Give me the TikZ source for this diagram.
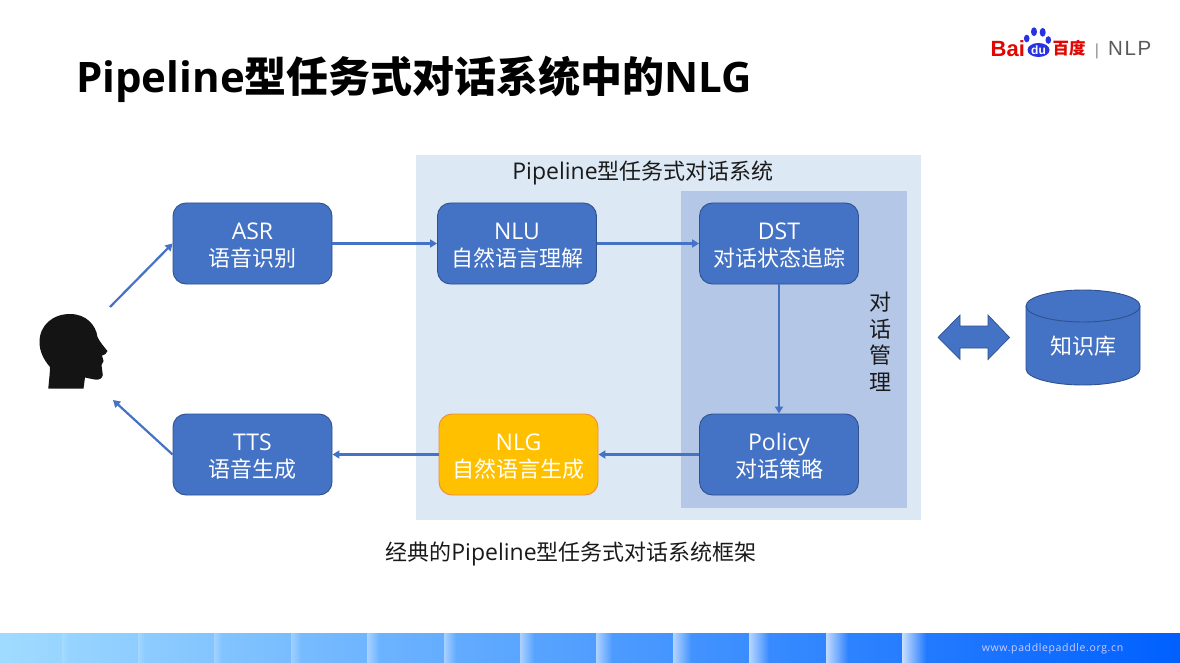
\documentclass[tikz,border=0pt]{standalone}
\usepackage{fontspec}
\setmainfont{Open Sans}
\newfontfamily\cjk{Noto Sans CJK SC}
\newfontfamily\lat{Open Sans}
\newfontfamily\arial{Liberation Sans}
\usetikzlibrary{arrows.meta,fadings}
\definecolor{boxblue}{HTML}{4472C4}
\definecolor{boxedge}{HTML}{2F528F}
\definecolor{panelA}{HTML}{DDE8F5}
\definecolor{panelB}{HTML}{B4C7E7}
\definecolor{nlgfill}{HTML}{FFC000}
\definecolor{nlgedge}{HTML}{F08A3D}
\definecolor{inktext}{HTML}{1A1A1A}
\definecolor{baidured}{HTML}{E10601}
\definecolor{baidublue}{HTML}{2932E1}
\definecolor{nlpgrey}{HTML}{5A5A5A}
\definecolor{footL}{HTML}{A0DBFF}
\definecolor{footR}{HTML}{0060FF}
\newcommand{\fs}[1]{\fontsize{#1}{#1}\selectfont}
\tikzset{
  x=1pt,y=-1pt,
  procbox/.style={draw=boxedge,fill=boxblue,line width=0.9pt,rounded corners=13pt,minimum width=159pt,minimum height=81pt,inner sep=0pt,text=white,align=center},
  goldbox/.style={procbox,draw=nlgedge,fill=nlgfill},
  flow/.style={draw=boxblue,line width=2.2pt,-{Triangle[length=7pt,width=8pt]}},
  plain/.style={inner sep=0pt,text=inktext},
}
\newcommand{\boxtext}[2]{\rule[-6pt]{0pt}{28pt}{\fs{23}\lat #1}\\\rule[-3pt]{0pt}{23pt}{\fs{22}\cjk #2}}
\begin{document}
\begin{tikzpicture}
\useasboundingbox (0,0) rectangle (1180,663);
\fill[white] (0,0) rectangle (1180,663);
% panels
\fill[panelA] (416,155) rectangle (921,520);
\fill[panelB] (681,191) rectangle (907,508);
% title
\node[plain,anchor=base west,text=black] (title) at (76,93) {\fs{42}\lat\bfseries Pipeline{\cjk\fs{42}\bfseries 型任务式对话系统中的}NLG};
\node[plain,anchor=base] (sys) at (643,180) {\fs{23}\lat Pipeline{\cjk\fs{22}型任务式对话系统}};
\node[plain,anchor=base] (cap) at (571,560) {\cjk\fs{22}经典的{\lat\fs{23}Pipeline}型任务式对话系统框架};
% boxes
\node[procbox] (asr) at (252.5,243.5) {\boxtext{ASR}{语音识别}};
\node[procbox] (nlu) at (517,243.5) {\boxtext{NLU}{自然语言理解}};
\node[procbox] (dst) at (779,243.5) {\boxtext{DST}{对话状态追踪}};
\node[procbox] (pol) at (779,454.5) {\boxtext{Policy}{对话策略}};
\node[goldbox] (nlg) at (518.5,454.5) {\boxtext{NLG}{自然语言生成}};
\node[procbox] (tts) at (252.5,454.5) {\boxtext{TTS}{语音生成}};
\node[plain,align=center,font=\cjk\fontsize{22}{26.5}\selectfont] (dm) at (880,342) {对\\话\\管\\理};
% head
\fill[black!92] (48.3,388.5) .. controls (49,380) and (50,373) .. (50,367)
  .. controls (44,360) and (39.5,352) .. (39.5,342)
  .. controls (39.5,325) and (53,314) .. (70,314)
  .. controls (86,314) and (96,325) .. (97.5,337)
  .. controls (100,342) and (104,347) .. (107.5,351)
  .. controls (107,354) and (104,355) .. (102,355.5)
  -- (103.5,361) -- (101.5,365) -- (102.8,375)
  .. controls (102,379) and (99,380) .. (95,379.5)
  .. controls (91,379) and (88,378) .. (85,377.5)
  -- (83.5,388.5) -- cycle;
\coordinate (headout) at (110,307);
\coordinate (headin) at (113,400);
% connectors
\draw[flow] (headout) -- (asr.west);
\draw[flow] (asr.east) -- (nlu.west);
\draw[flow] (nlu.east) -- (dst.west);
\draw[flow] (dst.south) -- (pol.north);
\draw[flow] (pol.west) -- (nlg.east);
\draw[flow] (nlg.west) -- (tts.east);
\draw[flow] (tts.west) -- (headin);
% double arrow
\draw[draw=boxedge,fill=boxblue,line width=0.7pt] (938,337.5) -- (960,315) -- (960,326) -- (988,326) -- (988,315) -- (1009.5,337.5) -- (988,359.5) -- (988,348) -- (960,348) -- (960,359.5) -- cycle;
% database
\draw[draw=boxedge,fill=boxblue,line width=0.9pt] (1026,306) -- (1026,369) arc[start angle=180,end angle=360,x radius=57,y radius=-16] -- (1140,306) arc[start angle=0,end angle=180,x radius=57,y radius=-16] -- cycle;
\draw[draw=boxedge,line width=0.9pt] (1026,306) arc[start angle=180,end angle=360,x radius=57,y radius=-16];
\node[plain,text=white] (kb) at (1083,346) {\cjk\fs{22}知识库};
% footer
\shade[left color=footL,right color=footR] (0,633) rectangle (1180,663);
\foreach \bx/\bw/\bo in {62/6/.15,138/7/.2,214/8/.25,291/10/.3,367/12/.4,444/12/.45,520/14/.5,596/16/.55,673/18/.6,749/20/.65,826/22/.7,902/24/.75}{
  \fill[white,path fading=east,opacity=\bo] (\bx,633) rectangle (\bx+\bw,663);
}
\node[plain,text=white!80!blue,anchor=base] (url) at (1052.5,651) {\lat\fs{10.5}\addfontfeature{LetterSpace=6}www.paddlepaddle.org.cn};
% logo
\node[plain,text=baidured,anchor=base west] (bai) at (990.5,56.5) {\arial\bfseries\fs{22}Bai};
\fill[baidublue] (1026.7,38.5) ellipse[x radius=2.8,y radius=3.8];
\fill[baidublue] (1034,31.7) ellipse[x radius=3,y radius=4.4];
\fill[baidublue] (1042.7,32.3) ellipse[x radius=3,y radius=4.4];
\fill[baidublue] (1048.3,40) ellipse[x radius=2.8,y radius=3.8];
\fill[baidublue] (1038.5,50) ellipse[x radius=11,y radius=7];
\node[plain,text=white] (du) at (1038.5,50) {\arial\bfseries\fs{12}du};
\node[plain,text=baidured,anchor=base west] (bd) at (1052.5,55) {\cjk\bfseries\fs{16.5}百度};
\node[plain,text=black!45,anchor=base] (sep) at (1097,55.5) {\arial\fs{16}|};
\node[plain,text=nlpgrey,anchor=base west] (nlp) at (1108,56) {\arial\fs{20.5}\addfontfeature{LetterSpace=8}NLP};
\end{tikzpicture}
\end{document}
